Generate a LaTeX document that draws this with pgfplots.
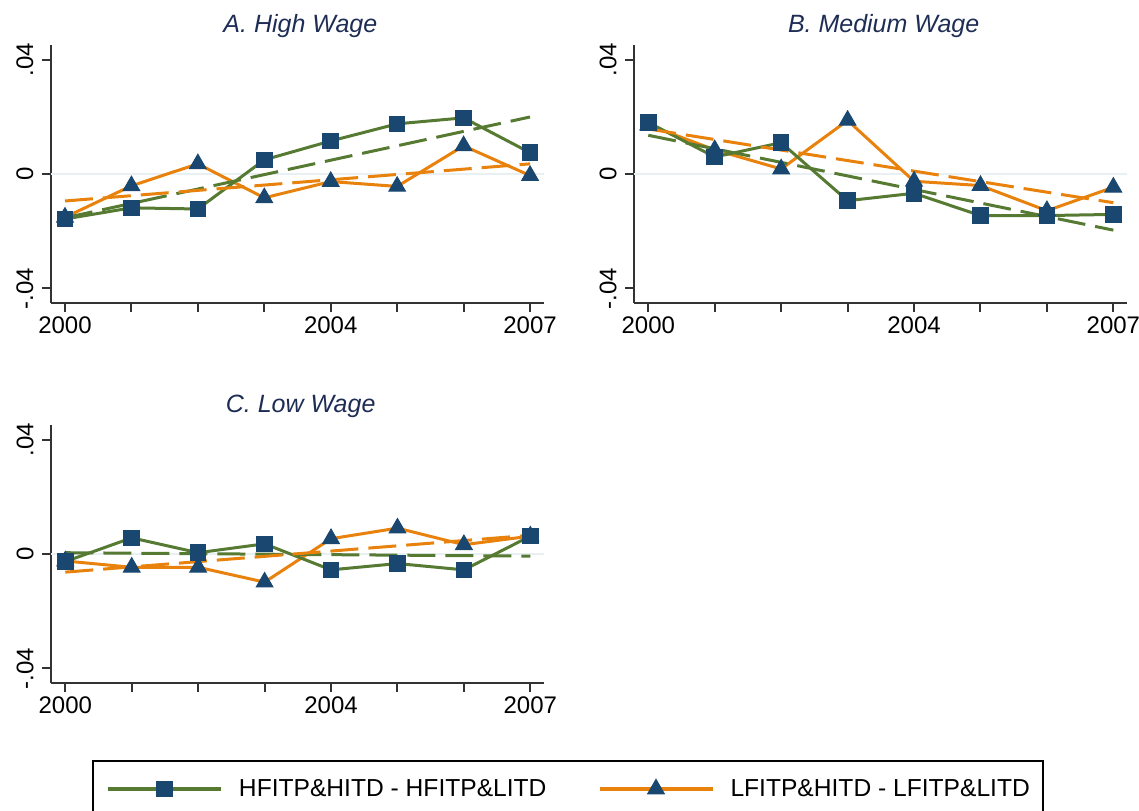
\documentclass[border=0pt]{standalone}
\usepackage{fontspec}
\setmainfont{Liberation Sans}
\usepackage{pgfplots}
\pgfplotsset{compat=1.18}
\definecolor{sgreen}{RGB}{86,122,50}
\definecolor{sorange}{RGB}{232,130,12}
\definecolor{snavy}{RGB}{26,71,111}
\definecolor{stitle}{RGB}{30,45,84}
\definecolor{szero}{RGB}{232,240,243}
\pgfplotsset{
  panel/.style={
    scale only axis, width=246.65pt, height=128.85pt,
    anchor=south west,
    xmin=1999.785, xmax=2007.21, ymin=-0.045, ymax=0.0452,
    axis x line*=bottom, axis y line*=left,
    axis line style={line width=1pt, black!80, -},
    scaled y ticks=false, scaled x ticks=false,
    xtick={2000,2001,2002,2003,2004,2005,2006,2007},
    xticklabels={2000,,,,2004,,,2007},
    ytick={-0.04,0,0.04}, yticklabels={-.04,0,.04},
    tick align=outside, major tick length=4.5pt,
    tick style={line width=1pt, black!80},
    ticklabel style={font=\fontsize{12}{14}\selectfont},
    xticklabel style={inner sep=2.4pt},
    yticklabel style={rotate=90, anchor=south, inner sep=4pt},
    every axis title shift=0pt,
    title style={font=\fontsize{12.5}{14}\selectfont\itshape, text=stitle,
      at={(axis description cs:0.5,1)}, anchor=base, yshift=6pt, xshift=1.5pt, inner sep=0pt},
    clip=false,
  },
  conn/.style={line width=1.5pt, mark options={solid, fill=snavy, draw=snavy, line width=0.5pt}},
  gconn/.style={conn, sgreen, mark=square*, mark size=3.9pt},
  oconn/.style={conn, sorange, mark=triangle*, mark size=4.8pt},
  fitline/.style={line width=1.5pt, dash pattern=on 14pt off 5pt, no marks},
  zeroline/.style={szero, line width=1pt, no marks, forget plot},
}
\begin{document}
\begin{tikzpicture}
\useasboundingbox (0,0) rectangle (569.5pt,405pt);
% Panel A
\begin{axis}[panel, at={(25.35pt,253.65pt)}, title={A. High Wage}]
\addplot[zeroline] coordinates {(1999.785,0) (2007.21,0)};
\addplot[oconn, forget plot] coordinates {(2000,-0.0151) (2001,-0.0041) (2002,0.0036) (2003,-0.0083) (2004,-0.0026) (2005,-0.0043) (2006,0.0099) (2007,-0.0005)};
\addplot[gconn, forget plot] coordinates {(2000,-0.0157) (2001,-0.0118) (2002,-0.0122) (2003,0.0050) (2004,0.0116) (2005,0.0176) (2006,0.0197) (2007,0.0075)};
\addplot[fitline, sgreen, forget plot] coordinates {(2000,-0.0153) (2007,0.0200)};
\addplot[fitline, sorange, forget plot] coordinates {(2000,-0.0094) (2007,0.0036)};
\end{axis}
% Panel B
\begin{axis}[panel, at={(317pt,253.65pt)}, title={B. Medium Wage}]
\addplot[zeroline] coordinates {(1999.785,0) (2007.21,0)};
\addplot[oconn, forget plot] coordinates {(2000,0.0172) (2001,0.0085) (2002,0.0018) (2003,0.0188) (2004,-0.0025) (2005,-0.0040) (2006,-0.0128) (2007,-0.0046)};
\addplot[gconn, forget plot] coordinates {(2000,0.0181) (2001,0.0060) (2002,0.0110) (2003,-0.0093) (2004,-0.0067) (2005,-0.0145) (2006,-0.0145) (2007,-0.0141)};
\addplot[fitline, sgreen, forget plot] coordinates {(2000,0.0136) (2007,-0.0196)};
\addplot[fitline, sorange, forget plot] coordinates {(2000,0.0158) (2007,-0.0100)};
\end{axis}
% Panel C
\begin{axis}[panel, at={(25.5pt,63.65pt)}, title={C. Low Wage},
  legend columns=2,
  legend style={at={(axis description cs:0.0825,-0.300)}, anchor=north west,
    draw=black, line width=1pt, inner xsep=6.65pt, inner ysep=9pt,
    font=\fontsize{12.3}{14}\selectfont,
    nodes={inner sep=0pt},
    /tikz/every odd column/.append style={column sep=8pt},
    /tikz/every even column/.append style={column sep=25.5pt}},
  legend image code/.code={\draw[mark repeat=2, mark phase=2, #1] plot coordinates {(0pt,0pt) (28.25pt,0pt) (56.5pt,0pt)};}
  ]
\addplot[zeroline] coordinates {(1999.785,0) (2007.21,0)};
\addplot[oconn, forget plot] coordinates {(2000,-0.0024) (2001,-0.0046) (2002,-0.0046) (2003,-0.0098) (2004,0.0054) (2005,0.0091) (2006,0.0033) (2007,0.0063)};
\addplot[gconn, forget plot] coordinates {(2000,-0.0026) (2001,0.0057) (2002,0.0005) (2003,0.0036) (2004,-0.0055) (2005,-0.0033) (2006,-0.0055) (2007,0.0063)};
\addplot[fitline, sgreen, forget plot] coordinates {(2000,0.0005) (2007,-0.0007)};
\addplot[fitline, sorange, forget plot] coordinates {(2000,-0.0063) (2007,0.0066)};
\addlegendimage{gconn, line width=2pt}
\addlegendentry{HFITP\&HITD - HFITP\&LITD}
\addlegendimage{oconn, line width=2pt}
\addlegendentry{LFITP\&HITD - LFITP\&LITD}
\end{axis}
\end{tikzpicture}
\end{document}
